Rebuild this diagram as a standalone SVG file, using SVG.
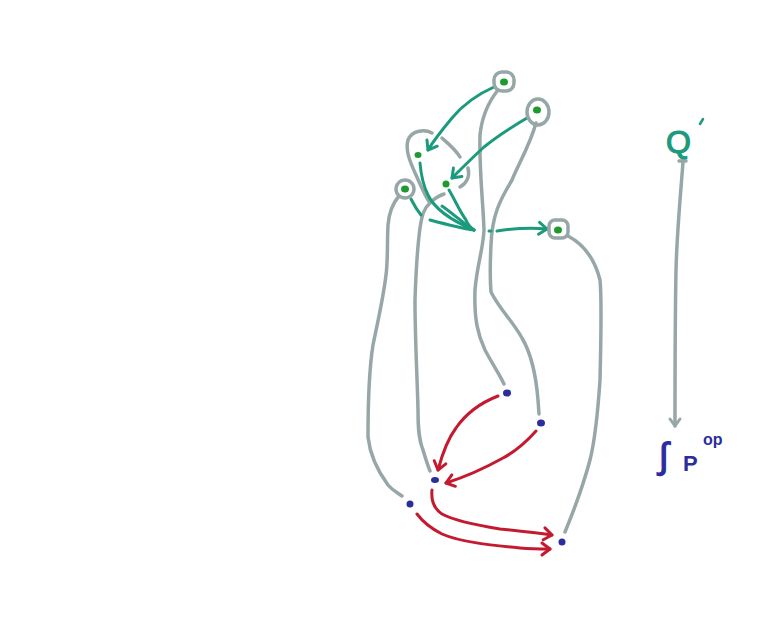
<svg xmlns="http://www.w3.org/2000/svg" width="769" height="627" viewBox="0 0 769 627">
<defs>
<style>
.g{fill:none;stroke:#97a7a7;stroke-width:3.5;stroke-linecap:round;stroke-linejoin:round}
.t{fill:none;stroke:#1b9a7c;stroke-width:3;stroke-linecap:round;stroke-linejoin:round}
.r{fill:none;stroke:#c41a30;stroke-width:3;stroke-linecap:round;stroke-linejoin:round}
.gd{fill:#1f9a2e}
.bd{fill:#2b2d9e}
.lbl{font-family:"Liberation Sans",sans-serif}
</style>
<marker id="at" viewBox="0 0 10 10" refX="8" refY="5" markerWidth="10" markerHeight="10" orient="auto" markerUnits="userSpaceOnUse" overflow="visible">
<path d="M0,-1 L8,5 L0,11" fill="none" stroke="#1b9a7c" stroke-width="3" stroke-linecap="round" stroke-linejoin="round"/>
</marker>
<marker id="ar" viewBox="0 0 10 10" refX="8" refY="5" markerWidth="10" markerHeight="10" orient="auto" markerUnits="userSpaceOnUse" overflow="visible">
<path d="M0,-1 L8,5 L0,11" fill="none" stroke="#c41a30" stroke-width="3" stroke-linecap="round" stroke-linejoin="round"/>
</marker>
<marker id="ag" viewBox="0 0 10 10" refX="8" refY="5" markerWidth="10" markerHeight="10" orient="auto" markerUnits="userSpaceOnUse" overflow="visible">
<path d="M1,0 L8,5 L1,10" fill="none" stroke="#97a7a7" stroke-width="3" stroke-linecap="round" stroke-linejoin="round"/>
</marker>
</defs>
<rect width="769" height="627" fill="#ffffff"/>

<g id="connectors">
<!-- grey long lines -->
<path class="g" d="M498,90 C490,100 482,115 480,135 C479,170 483,200 484,230 C483,250 477,265 475,290 C474,320 478,335 485,350 C493,365 500,375 504,384"/>
<path class="g" d="M536,123 C530,145 518,165 512,180 C500,200 492,215 491,245 C490,265 490,280 491,292 C500,310 512,320 522,338 C532,355 536,375 538,400 L539,414"/>
<path class="g" d="M399,196 C393,203 389,213 388,225 C387,245 388,260 386,275 C383,300 377,325 373,345 C369,370 368,400 368,437 C370,455 377,470 388,485 C393,491 398,493 402,496"/>
<path class="g" d="M430,203 C424,208 422,215 420,228 C417,250 416,270 415,300 C415,340 417,370 418,410 C418,430 419,440 423,450 C426,460 428,466 430,471"/>
<path class="g" d="M568,236 C585,245 595,260 600,280 C602,300 601,340 600,380 C598,410 595,440 590,460 C582,490 572,515 565,532"/>
<!-- loop around E -->
<path class="g" d="M432,133 C425,129 412,130 408,140 C405,150 410,162 416,175 C421,186 425,196 430,203 C434,199 438,196 444,194"/>
<path class="g" d="M442,138 C450,145 456,150 460,157"/>
<path class="g" d="M468,168 C470,176 467,183 460,187"/>
<!-- green arrows -->
<path class="t" d="M494,87 C478,94 462,106 452,118 C442,130 434,140 428,150" marker-end="url(#at)"/>
<path class="t" d="M527,118 C510,128 495,138 484,147 C472,158 462,168 452,178" marker-end="url(#at)"/>
<path class="t" d="M411,199 C414,205 417,210 421,215"/>
<path class="t" d="M430,220 C445,224 460,228 474,230"/>
<path class="t" d="M420,163 C421,175 423,185 428,195 C435,210 455,222 474,230"/>
<path class="t" d="M449,190 C455,200 460,212 466,220 C468,225 471,228 474,230"/>
<path class="t" d="M442,206 C452,213 462,222 474,230"/>
<path class="t" d="M489,231 L491,231"/>
<path class="t" d="M497,231 C510,229 525,227 547,229" marker-end="url(#at)"/>
<!-- red arrows -->
<path class="r" d="M498,396 C480,403 465,415 456,428 C447,440 442,455 438,470" marker-end="url(#ar)"/>
<path class="r" d="M536,431 C528,440 518,450 503,458 C485,468 465,477 446,483" marker-end="url(#ar)"/>
<path class="r" d="M432,490 C431,500 433,508 442,514 C455,521 475,525 500,529 C520,531 538,533 552,535" marker-end="url(#ar)"/>
<path class="r" d="M417,514 C423,522 430,528 442,534 C460,542 490,545 520,548 C532,549 542,549 550,549" marker-end="url(#ar)"/>
<!-- grey Q' arrow -->
<path class="g" d="M679,161 L686,161"/>
<path class="g" d="M683,162 C681,190 677,230 676,270 C675,320 675,380 675,426" marker-end="url(#ag)"/>
</g>

<g id="nodeA">
<rect class="g" x="494" y="72" width="20" height="19" rx="8"/>
<ellipse class="gd" cx="504" cy="82" rx="4" ry="3.5"/>
</g>
<g id="nodeB">
<ellipse class="g" cx="538" cy="112" rx="11" ry="13"/>
<ellipse class="gd" cx="537" cy="110" rx="4" ry="3.5"/>
</g>
<g id="nodeC">
<circle class="g" cx="405" cy="189" r="9"/>
<ellipse class="gd" cx="405" cy="189" rx="4" ry="3.5"/>
</g>
<g id="nodeD">
<rect class="g" x="549" y="220" width="19" height="18" rx="6"/>
<ellipse class="gd" cx="558" cy="230" rx="4" ry="3.5"/>
</g>
<g id="nodeE">
<ellipse class="gd" cx="418" cy="155" rx="3.5" ry="3"/>
</g>
<g id="nodeF">
<ellipse class="gd" cx="446" cy="184" rx="3.5" ry="3.5"/>
</g>
<g id="blue1"><ellipse class="bd" cx="507" cy="393" rx="4" ry="3.5"/></g>
<g id="blue2"><ellipse class="bd" cx="541" cy="423" rx="4" ry="3.5"/></g>
<g id="blue3"><ellipse class="bd" cx="435" cy="480" rx="4" ry="3"/></g>
<g id="blue4"><ellipse class="bd" cx="410" cy="504" rx="3.5" ry="3.5"/></g>
<g id="blue5"><ellipse class="bd" cx="562" cy="542" rx="3.5" ry="3.5"/></g>

<g id="Q">
<text class="lbl" x="666" y="153" font-size="32" fill="#1b9a7c" stroke="#1b9a7c" stroke-width="1.2">Q</text>
<path d="M700,124 L703,119" stroke="#1b9a7c" stroke-width="2.5" stroke-linecap="round"/>
</g>
<g id="intP">
<text class="lbl" x="659" y="468" font-size="36" fill="#2b2d9e" stroke="#2b2d9e" stroke-width="1.2">∫</text>
<text class="lbl" x="683" y="471" font-size="22" font-weight="bold" fill="#2b2d9e">P</text>
<text class="lbl" x="703" y="445" font-size="16" font-weight="bold" fill="#2b2d9e">op</text>
</g>
</svg>
